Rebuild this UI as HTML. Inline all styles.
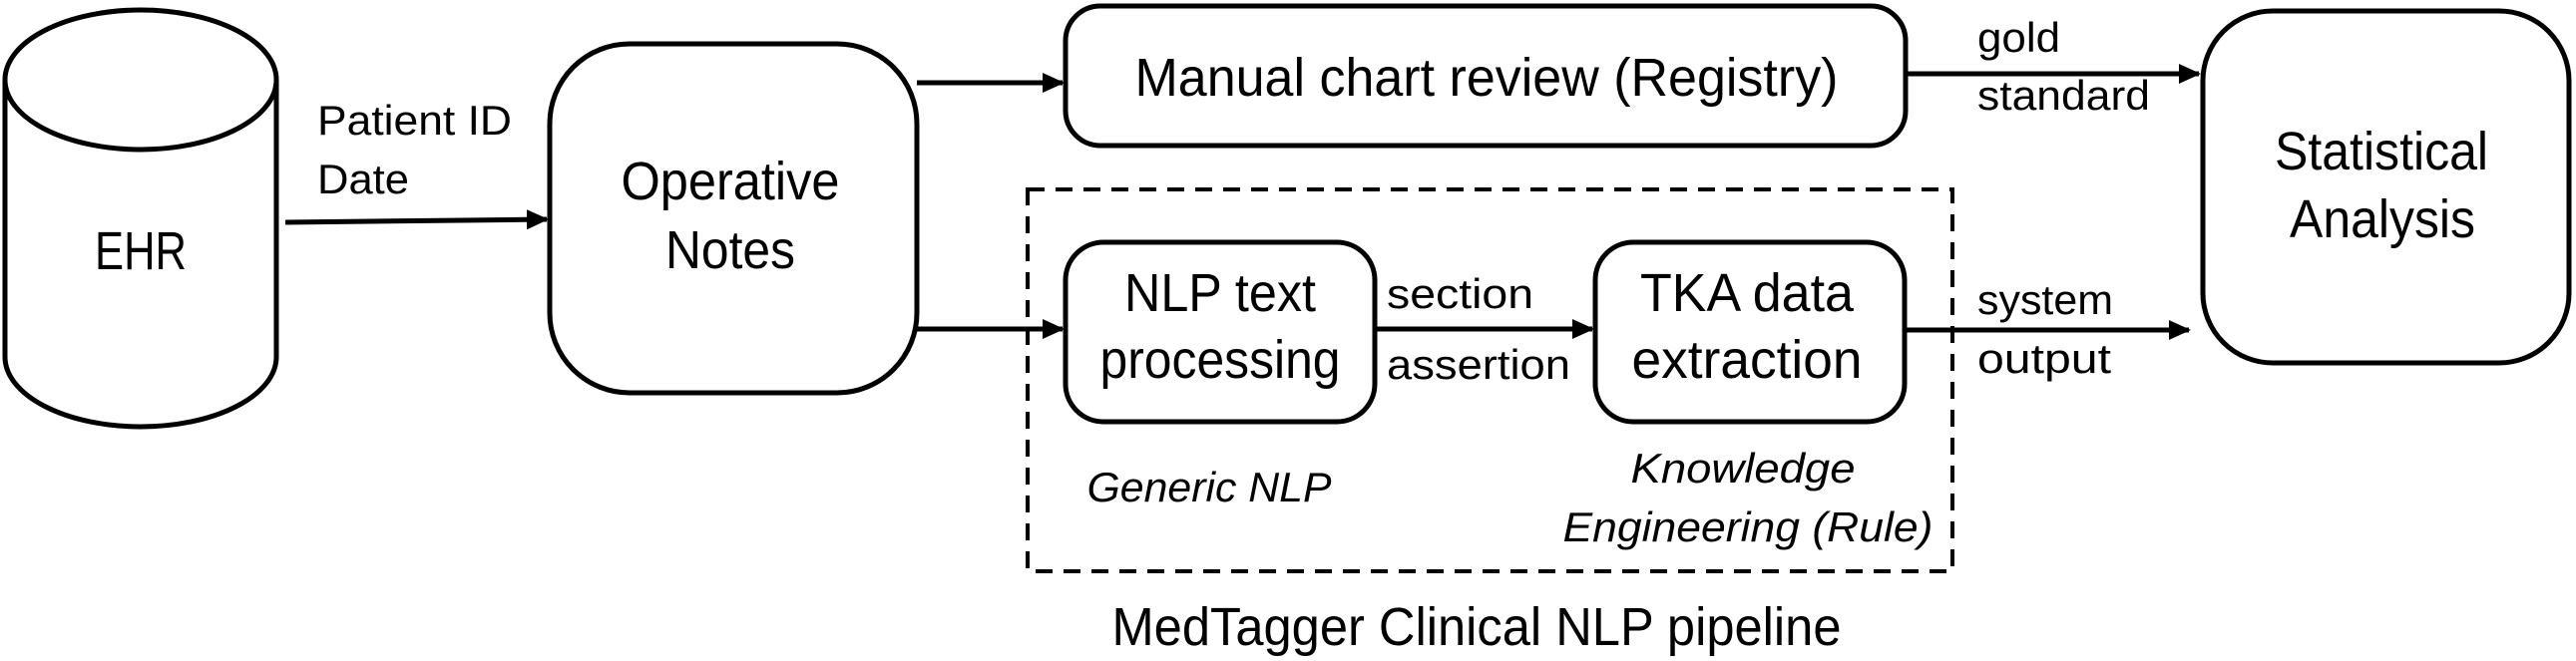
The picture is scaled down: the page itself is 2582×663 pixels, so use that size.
<!DOCTYPE html>
<html><head><meta charset="utf-8"><style>
html,body{margin:0;padding:0;background:#fff;}
svg{display:block;}
text{font-family:"Liberation Sans",sans-serif;fill:#000;}
</style></head><body>
<svg width="2582" height="663" viewBox="0 0 2582 663" xmlns="http://www.w3.org/2000/svg">
<defs>
<marker id="ah" markerWidth="4.4" markerHeight="4" refX="4" refY="2" orient="auto" markerUnits="strokeWidth">
<path d="M0,0 L4.4,2 L0,4 z" fill="#000"/>
</marker>
</defs>
<g fill="none" stroke="#000" stroke-width="5">
<ellipse cx="141" cy="80" rx="136" ry="70"/>
<path d="M5,80 L5,358 A136,70 0 0 0 277,358 L277,80"/>
<rect x="551" y="44" width="368" height="350" rx="80"/>
<rect x="1068" y="6" width="842" height="140" rx="35"/>
<rect x="2208" y="11" width="367" height="353" rx="70"/>
<rect x="1068" y="243" width="310" height="180" rx="38"/>
<rect x="1599" y="243" width="310" height="180" rx="38"/>
<rect x="1030" y="190" width="927" height="383" stroke-width="4" stroke-dasharray="17,11"/>
<line x1="286" y1="223" x2="548" y2="220" marker-end="url(#ah)"/>
<line x1="919" y1="83" x2="1065" y2="83" marker-end="url(#ah)"/>
<line x1="919" y1="330" x2="1065" y2="330" marker-end="url(#ah)"/>
<line x1="1378" y1="330" x2="1596" y2="330" marker-end="url(#ah)"/>
<line x1="1910" y1="74" x2="2204" y2="74" marker-end="url(#ah)"/>
<line x1="1909" y1="331" x2="2194" y2="331" marker-end="url(#ah)"/>
</g>
<g font-size="54" text-anchor="middle">
<text x="141" y="270" textLength="92" lengthAdjust="spacingAndGlyphs">EHR</text>
<text x="732" y="200" textLength="219" lengthAdjust="spacingAndGlyphs">Operative</text>
<text x="732" y="269" textLength="130" lengthAdjust="spacingAndGlyphs">Notes</text>
<text x="1490" y="96" textLength="705" lengthAdjust="spacingAndGlyphs">Manual chart review (Registry)</text>
<text x="2387" y="170" textLength="214" lengthAdjust="spacingAndGlyphs">Statistical</text>
<text x="2388" y="238" textLength="186" lengthAdjust="spacingAndGlyphs">Analysis</text>
<text x="1223" y="312" textLength="192" lengthAdjust="spacingAndGlyphs">NLP text</text>
<text x="1223" y="379" textLength="241" lengthAdjust="spacingAndGlyphs">processing</text>
<text x="1751" y="312" textLength="214" lengthAdjust="spacingAndGlyphs">TKA data</text>
<text x="1751" y="379" textLength="231" lengthAdjust="spacingAndGlyphs">extraction</text>
<text x="1480" y="647" textLength="731" lengthAdjust="spacingAndGlyphs">MedTagger Clinical NLP pipeline</text>
</g>
<g font-size="42">
<text x="318" y="135" textLength="195" lengthAdjust="spacingAndGlyphs">Patient ID</text>
<text x="318" y="194" textLength="92" lengthAdjust="spacingAndGlyphs">Date</text>
<text x="1390" y="309" textLength="147" lengthAdjust="spacingAndGlyphs">section</text>
<text x="1390" y="380" textLength="184" lengthAdjust="spacingAndGlyphs">assertion</text>
<text x="1982" y="52" textLength="83" lengthAdjust="spacingAndGlyphs">gold</text>
<text x="1982" y="110" textLength="173" lengthAdjust="spacingAndGlyphs">standard</text>
<text x="1982" y="315" textLength="136" lengthAdjust="spacingAndGlyphs">system</text>
<text x="1982" y="374" textLength="134" lengthAdjust="spacingAndGlyphs">output</text>
</g>
<g font-size="42" font-style="italic" text-anchor="middle">
<text x="1212" y="503" textLength="245" lengthAdjust="spacingAndGlyphs">Generic NLP</text>
<text x="1747" y="484" textLength="225" lengthAdjust="spacingAndGlyphs">Knowledge</text>
<text x="1752" y="543" textLength="371" lengthAdjust="spacingAndGlyphs">Engineering (Rule)</text>
</g>
</svg>
</body></html>
